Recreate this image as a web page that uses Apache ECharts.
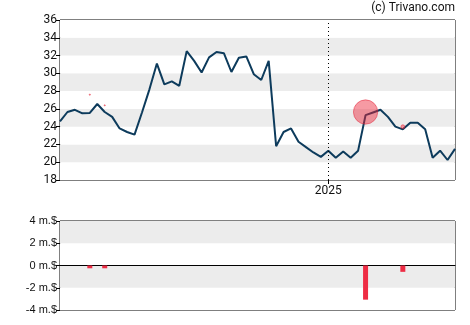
<!DOCTYPE html>
<html>
<head>
<meta charset="utf-8">
<script src="https://cdn.jsdelivr.net/npm/echarts@6/dist/echarts.min.js"></script>
<style>html,body{margin:0;padding:0;background:#fff}#c{width:470px;height:325px}</style>
</head>
<body>
<div id="c"></div>
<script>
var weeks = ['2024-04-24','2024-05-01','2024-05-08','2024-05-15','2024-05-22','2024-05-29','2024-06-05','2024-06-12','2024-06-19','2024-06-26',
'2024-07-03','2024-07-10','2024-07-17','2024-07-24','2024-07-31','2024-08-07','2024-08-14','2024-08-21','2024-08-28','2024-09-04',
'2024-09-11','2024-09-18','2024-09-25','2024-10-02','2024-10-09','2024-10-16','2024-10-23','2024-10-30','2024-11-06','2024-11-13',
'2024-11-20','2024-11-27','2024-12-04','2024-12-11','2024-12-18','2024-12-25','2025-01-01','2025-01-08','2025-01-15','2025-01-22',
'2025-01-29','2025-02-05','2025-02-12','2025-02-19','2025-02-26','2025-03-05','2025-03-12','2025-03-19','2025-03-26','2025-04-02',
'2025-04-09','2025-04-16','2025-04-23','2025-04-30'];
var prices = [24.6,25.65,25.9,25.5,25.55,26.55,25.65,25.1,23.8,23.4,
23.1,25.6,28.2,31.1,28.75,29.1,28.6,32.5,31.4,30.1,
31.8,32.4,32.25,30.15,31.75,31.9,29.9,29.25,31.4,21.8,
23.4,23.8,22.3,21.7,21.1,20.6,21.3,20.5,21.2,20.5,
21.3,25.3,25.6,25.9,25.1,24.0,23.7,24.45,24.45,23.7,
20.5,21.3,20.25,21.5];
var yearMark = '2025-01-01';
var yearLabel = '2025';
var priceTicks = [18,20,22,24,26,28,30,32,34,36];
var tradeWeeks = ['2024-05-22','2024-06-05','2025-02-05','2025-03-12'];
var tradePrices = [27.6,26.4,25.65,24.0];
var tradeValues = [-0.25,-0.25,-3.07,-0.57];
var volTicks = ['-4 m.$','-2 m.$','0 m.$','2 m.$','4 m.$'];

var barData = weeks.map(function(w){
  var i = tradeWeeks.indexOf(w);
  return i >= 0 ? tradeValues[i] : null;
});
var scatterData = tradeWeeks.map(function(w,i){ return [w, tradePrices[i], tradeValues[i]]; });

var chart = echarts.init(document.getElementById('c'));
var axisTxt = {color:'#111', fontFamily:'Roboto', fontSize:12};
chart.setOption({
  animation:false,
  graphic:[{type:'text', right:15, top:2, style:{text:'(c) Trivano.com', fill:'#111', font:'12px Roboto', textAlign:'right'}}],
  grid:[
    {left:60, right:15, top:20, height:160, show:true, borderColor:'#000', borderWidth:1, backgroundColor:'transparent'},
    {left:60, right:15, top:221, height:89, show:true, borderColor:'#000', borderWidth:1, backgroundColor:'transparent'}
  ],
  xAxis:[
    {type:'category', gridIndex:0, data:weeks, boundaryGap:false,
     axisLine:{show:false},
     axisTick:{show:true, length:4, lineStyle:{color:'#000'}, interval:function(i,v){return v===yearMark;}},
     axisLabel:{show:true, interval:function(i,v){return v===yearMark;}, formatter:function(v){return v===yearMark?yearLabel:'';}, color:'#111', fontFamily:'Roboto', fontSize:12, margin:5},
     splitLine:{show:false}},
    {type:'category', gridIndex:1, data:weeks, boundaryGap:false,
     axisLine:{show:true, onZero:true, lineStyle:{color:'#000', width:1}},
     axisTick:{show:false}, axisLabel:{show:false}, splitLine:{show:false}}
  ],
  yAxis:[
    {type:'value', gridIndex:0, min:priceTicks[0], max:priceTicks[priceTicks.length-1], interval:2,
     axisLine:{show:false},
     axisTick:{show:true, length:4, lineStyle:{color:'#000'}},
     axisLabel:Object.assign({margin:3}, axisTxt),
     splitLine:{show:false},
     splitArea:{show:true, areaStyle:{color:['#ffffff','#ececec']}}},
    {type:'value', gridIndex:1, min:-4, max:4, interval:2,
     axisLine:{show:false},
     axisTick:{show:true, length:4, lineStyle:{color:'#000'}},
     axisLabel:{margin:3, color:'#111', fontFamily:'Liberation Sans', fontSize:11,
       formatter:function(v){return volTicks[(v+4)/2];}},
     splitLine:{show:false},
     splitArea:{show:true, areaStyle:{color:['#ffffff','#ececec']}}}
  ],
  series:[
    {type:'line', xAxisIndex:0, yAxisIndex:0, data:prices, symbol:'none',
     lineStyle:{color:'#0d3b5c', width:2}, z:3,
     markLine:{silent:true, symbol:'none', label:{show:false},
       lineStyle:{color:'#000', type:[1,3], width:1},
       data:[{xAxis:yearMark}]}},
    {type:'scatter', xAxisIndex:0, yAxisIndex:0, data:scatterData,
     symbolSize:function(d){var s=Math.abs(d[2])*8.2-0.9; return s<2?1.2:s;},
     itemStyle:{color:'rgba(236,36,56,0.58)', borderColor:'rgba(225,30,50,0.75)', borderWidth:0.8}, z:4},
    {type:'bar', xAxisIndex:1, yAxisIndex:1, data:barData, barWidth:5,
     itemStyle:{color:'#ee2c44'}}
  ]
});
</script>
</body>
</html>
